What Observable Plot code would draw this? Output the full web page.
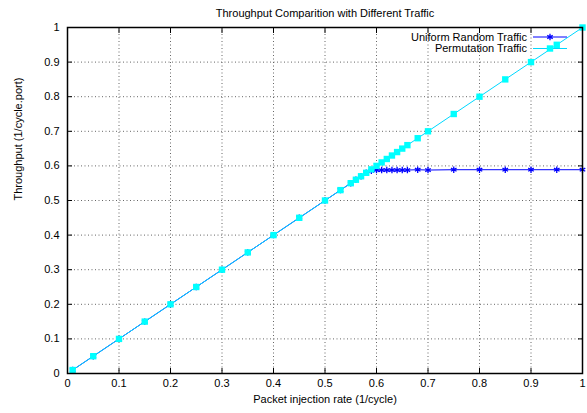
<!DOCTYPE html>
<html>
<head>
<meta charset="utf-8">
<script src="https://cdn.jsdelivr.net/npm/d3@7"></script>
<script src="https://cdn.jsdelivr.net/npm/@observablehq/plot@0.6"></script>
<style>
  html, body { margin: 0; padding: 0; background: #fff; }
  svg { font-family: "Liberation Sans", Arial, sans-serif; }
</style>
</head>
<body>
<div id="chart"></div>
<script>
const title = "Throughput Comparition with Different Traffic";
const xLabel = "Packet injection rate (1/cycle)";
const yLabel = "Throughput (1/cycle.port)";
const seriesNames = ["Uniform Random Traffic", "Permutation Traffic"];

const injectionRate = [0.01,0.05,0.1,0.15,0.2,0.25,0.3,0.35,0.4,0.45,0.5,0.53,0.55,0.56,0.57,0.58,0.59,0.6,0.61,0.62,0.63,0.64,0.65,0.66,0.68,0.7,0.75,0.8,0.85,0.9,0.95,1.0];
const uniformThroughput = [0.01,0.05,0.1,0.15,0.2,0.25,0.3,0.35,0.4,0.45,0.5,0.53,0.55,0.56,0.57,0.58,0.586,0.588,0.588,0.588,0.588,0.588,0.588,0.588,0.589,0.588,0.589,0.589,0.589,0.589,0.589,0.589];
const permutationThroughput = [0.01,0.05,0.1,0.15,0.2,0.25,0.3,0.35,0.4,0.45,0.5,0.53,0.55,0.56,0.57,0.58,0.59,0.6,0.61,0.62,0.63,0.64,0.65,0.66,0.68,0.7,0.75,0.8,0.85,0.9,0.95,1.0];
const tickValues = [0,0.1,0.2,0.3,0.4,0.5,0.6,0.7,0.8,0.9,1];

const uniform = injectionRate.map((x, i) => ({x, y: uniformThroughput[i]}));
const permutation = injectionRate.map((x, i) => ({x, y: permutationThroughput[i]}));

const blue = "#0000ff";
const cyan = "#00ffff";
const fmt = d => d3.format("")(d);

const plot = Plot.plot({
  width: 587,
  height: 413,
  marginLeft: 67,
  marginRight: 5,
  marginTop: 27,
  marginBottom: 40,
  style: {fontFamily: "Liberation Sans, Arial, sans-serif", fontSize: "11px", color: "#000", background: "#fff"},
  x: {domain: [0, 1]},
  y: {domain: [0, 1]},
  marks: [
    Plot.gridX(tickValues, {stroke: "#666", strokeOpacity: 1, strokeDasharray: "1,2.5", strokeWidth: 1}),
    Plot.gridY(tickValues, {stroke: "#666", strokeOpacity: 1, strokeDasharray: "1,2.5", strokeWidth: 1}),
    Plot.axisX(tickValues, {anchor: "bottom", tickSize: -5, tickPadding: 11, tickFormat: fmt, label: null, fontSize: 11}),
    Plot.axisX(tickValues, {anchor: "top", tickSize: -5, tickFormat: () => "", label: null}),
    Plot.axisY(tickValues, {anchor: "left", tickSize: -5, tickPadding: 13, tickFormat: fmt, label: null, fontSize: 11}),
    Plot.axisY(tickValues, {anchor: "right", tickSize: -5, tickFormat: () => "", label: null}),
    Plot.line(uniform, {x: "x", y: "y", stroke: blue, strokeWidth: 1}),
    Plot.dot(uniform, {x: "x", y: "y", symbol: "asterisk", r: 3, stroke: blue, strokeWidth: 1.3}),
    Plot.line(permutation, {x: "x", y: "y", stroke: "#00d8ff", strokeWidth: 1}),
    Plot.dot(permutation, {x: "x", y: "y", symbol: "square", r: 3.6, fill: cyan, stroke: "none"}),
    Plot.frame({stroke: "#000", strokeWidth: 1.5}),
    Plot.text([title], {frameAnchor: "top", dy: -18, fontSize: 11, fill: "#000"}),
    Plot.text([xLabel], {frameAnchor: "bottom", dy: 29, fontSize: 11, fill: "#000"}),
    Plot.text([yLabel], {frameAnchor: "left", dx: -49, rotate: -90, fontSize: 11, fill: "#000"})
  ]
});

document.getElementById("chart").appendChild(plot);

// Legend (top-right inside the plot frame)
const svg = d3.select(plot);
const lg = svg.append("g").attr("font-size", 11).attr("font-family", "Liberation Sans, Arial, sans-serif");
const entries = [
  {name: seriesNames[0], color: blue, symbol: d3.symbolAsterisk, fill: "none", stroke: blue, size: 28},
  {name: seriesNames[1], color: "#00d8ff", symbol: d3.symbolSquare, fill: cyan, stroke: "none", size: 41}
];
entries.forEach((e, i) => {
  const cy = 37 + i * 11.5;
  lg.append("text").attr("x", 527).attr("y", cy).attr("dy", "0.35em").attr("text-anchor", "end").attr("fill", "#000").text(e.name);
  lg.append("line").attr("x1", 533).attr("x2", 567).attr("y1", cy).attr("y2", cy).attr("stroke", e.color).attr("stroke-width", 1);
  lg.append("path").attr("d", d3.symbol(e.symbol, e.size)()).attr("transform", `translate(550,${cy})`)
    .attr("fill", e.fill).attr("stroke", e.stroke).attr("stroke-width", 1.3);
});
</script>
</body>
</html>
